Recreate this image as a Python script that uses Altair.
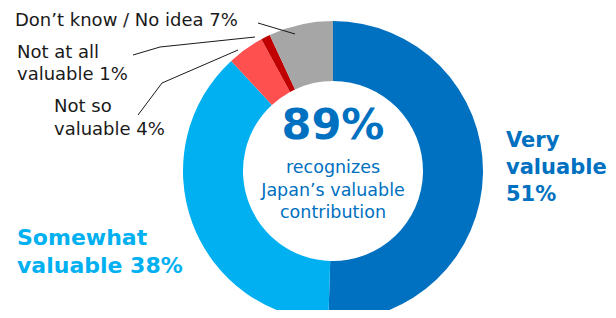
import altair as alt
import pandas as pd

categories = ["Very valuable", "Somewhat valuable", "Not so valuable", "Not at all valuable", "Don't know / No idea"]
values = [51, 38, 4, 1, 7]
colors = ["#0070C0", "#00B0F0", "#FF5050", "#C00000", "#A6A6A6"]

center_big = "89%"
center_lines = ["recognizes", "Japan\u2019s valuable", "contribution"]
very_lines = ["Very", "valuable", "51%"]
some_lines = ["Somewhat", "valuable 38%"]
notso_lines = ["Not so", "valuable 4%"]
notatall_lines = ["Not at all", "valuable 1%"]
dontknow_label = "Don\u2019t know / No idea 7%"

df = pd.DataFrame({"cat": categories, "val": values, "order": list(range(len(values)))})

FONT = "DejaVu Sans"
CX, CY = 325, 163

donut = alt.Chart(df).mark_arc(outerRadius=150, innerRadius=90).encode(
    theta=alt.Theta("val:Q", stack=True),
    order=alt.Order("order:Q"),
    color=alt.Color("cat:N", scale=alt.Scale(domain=categories, range=colors), legend=None),
    x=alt.value(CX),
    y=alt.value(CY),
)

one = pd.DataFrame({"a": [0]})

def txt(s, x, y, size, color, bold=False, align="left"):
    return alt.Chart(one).mark_text(
        font=FONT, fontSize=size, fontWeight="bold" if bold else "normal",
        color=color, align=align, baseline="alphabetic"
    ).encode(x=alt.value(x), y=alt.value(y), text=alt.value(s))

def seg(x1, y1, x2, y2):
    return alt.Chart(one).mark_rule(color="#1a1a1a", strokeWidth=1).encode(
        x=alt.value(x1), y=alt.value(y1), x2=alt.value(x2), y2=alt.value(y2))

layers = [donut]
layers.append(txt(center_big, CX, 131, 43, "#0070C0", bold=True, align="center"))
for i, s in enumerate(center_lines):
    layers.append(txt(s, CX, 165 + i * 22.5, 17.5, "#0070C0", align="center"))
for i, s in enumerate(very_lines):
    layers.append(txt(s, 498, 139 + i * 27, 21, "#0070C0", bold=True))
for i, s in enumerate(some_lines):
    layers.append(txt(s, 9, 237 + i * 28, 22, "#00B0F0", bold=True))
for i, s in enumerate(notso_lines):
    layers.append(txt(s, 46, 104 + i * 23, 18, "#1a1a1a"))
for i, s in enumerate(notatall_lines):
    layers.append(txt(s, 9, 50 + i * 22, 18, "#1a1a1a"))
layers.append(txt(dontknow_label, 7, 18, 18, "#1a1a1a"))

layers += [
    seg(250, 15, 287, 26),
    seg(125, 47, 152, 39), seg(152, 39, 247, 29),
    seg(130, 107, 154, 75), seg(154, 75, 230, 42),
]

chart = alt.layer(*layers).properties(
    width=600, height=302, padding=0, autosize=alt.AutoSizeParams(type="none")
).configure_view(stroke=None)

chart.save("out.html", embed_options={"renderer": "svg", "actions": False})
